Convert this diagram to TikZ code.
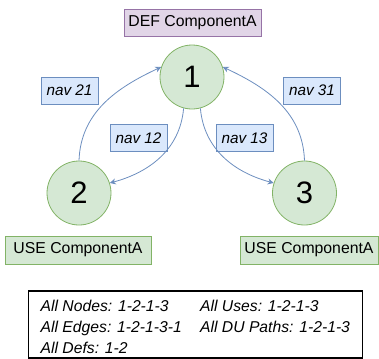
\documentclass[tikz,border=0pt]{standalone}
\usepackage{fontspec}
\setmainfont{Liberation Sans}
\usetikzlibrary{arrows.meta}
\definecolor{grfill}{HTML}{D5E8D4}
\definecolor{grline}{HTML}{82B366}
\definecolor{blfill}{HTML}{DAE8FC}
\definecolor{blline}{HTML}{6C8EBF}
\definecolor{pufill}{HTML}{E1D5E7}
\definecolor{puline}{HTML}{9673A6}
\tikzset{
  txt/.style={font=\fontsize{15.8bp}{18bp}\selectfont},
  vertex/.style={circle,draw=grline,fill=grfill,line width=0.8bp,minimum size=64bp,inner sep=0pt,font=\fontsize{31bp}{34bp}\selectfont},
  navbox/.style={rectangle,draw=blline,fill=blfill,line width=0.8bp,minimum width=57bp,minimum height=27bp,inner sep=0pt,txt,font=\fontsize{15.3bp}{18bp}\selectfont\itshape},
  usebox/.style={rectangle,draw=grline,fill=grfill,line width=0.8bp,minimum height=28bp,inner sep=0pt,txt},
  defbox/.style={rectangle,draw=puline,fill=pufill,line width=0.8bp,minimum width=137bp,minimum height=27bp,inner sep=0pt,txt},
  conn/.style={draw=blline,line width=0.8bp,-{Stealth[length=6bp,width=6bp]}},
  sumtxt/.style={anchor=base west,inner sep=0pt,font=\fontsize{15.7bp}{18bp}\selectfont\itshape},
}
\begin{document}
\begin{tikzpicture}[x=1bp,y=-1bp]
\useasboundingbox (0,0) rectangle (379,359);
\node[defbox] (def) at (192.5,22.5) {DEF ComponentA};
\node[vertex] (c1) at (192,77) {1};
\node[vertex] (c2) at (79,193) {2};
\node[vertex] (c3) at (304.5,193) {3};
\node[usebox,minimum width=146bp] (use2) at (78,250) {USE ComponentA};
\node[usebox,minimum width=138bp] (use3) at (309,250) {USE ComponentA};
\node[navbox] (n21) at (69.5,90.5) {nav 21};
\node[navbox] (n31) at (312,90.5) {nav 31};
\node[navbox] (n12) at (138.5,138) {nav 12};
\node[navbox] (n13) at (244.5,138) {nav 13};
\draw[conn] (c2.90) to[out=88,in=205] (c1.162);
\draw[conn] (c1.255) to[out=265,in=15] (c2.18);
\draw[conn] (c1.285) to[out=275,in=165] (c3.162);
\draw[conn] (c3.90) to[out=92,in=-25] (c1.18);
\node[draw=black,line width=1.6bp,minimum width=334bp,minimum height=67bp,inner sep=0pt] (sum) at (195.5,324.5) {};
\node[sumtxt] (s1) at (40.5,311) {All Nodes: 1-2-1-3};
\node[sumtxt] (s2) at (40.5,332) {All Edges: 1-2-1-3-1};
\node[sumtxt] (s3) at (40.5,353) {All Defs: 1-2};
\node[sumtxt] (s4) at (200,311) {All Uses: 1-2-1-3};
\node[sumtxt] (s5) at (200,332) {All DU Paths: 1-2-1-3};
\end{tikzpicture}
\end{document}
